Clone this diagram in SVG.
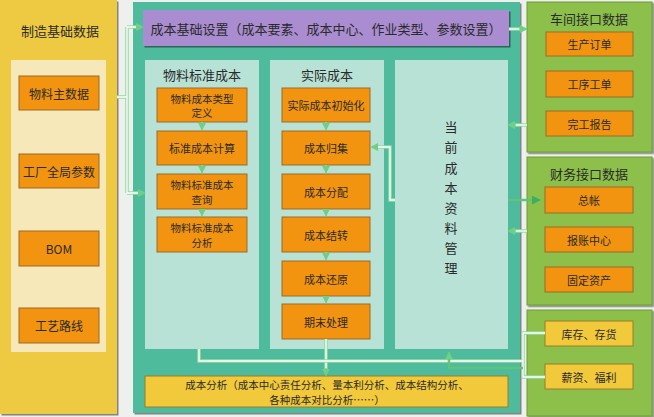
<svg xmlns="http://www.w3.org/2000/svg" width="654" height="417" viewBox="0 0 654 417">
<defs>
<filter id="sh" x="-10%" y="-10%" width="130%" height="130%"><feDropShadow dx="1.5" dy="1.5" stdDeviation="0.7" flood-color="#000" flood-opacity="0.45"/></filter>
<marker id="ag" viewBox="0 0 10 10" refX="9" refY="5" markerWidth="8" markerHeight="8" markerUnits="userSpaceOnUse" orient="auto"><path d="M0,0 L10,5 L0,10 z" fill="#6fcf86"/></marker>
<marker id="ad" viewBox="0 0 10 10" refX="9" refY="5" markerWidth="9" markerHeight="9" markerUnits="userSpaceOnUse" orient="auto"><path d="M0,0 L10,5 L0,10 z" fill="#3fae62"/></marker>
</defs>
<style>
.t{font-family:"Noto Sans CJK SC","Noto Sans",sans-serif;fill:#2a2a2a;text-anchor:middle;dominant-baseline:central}
.h{font-size:13px}
.s{font-size:11px}
.s2{font-size:10.5px}
.m{font-size:12px}
.ob{fill:#f2940f;stroke:#9c6a28;stroke-width:1}
.yb{fill:#f1c93a;stroke:#9c7d28;stroke-width:1}
.sub{fill:#b9e2d6}
.gp{fill:#8dc04b;stroke:#6e9a38;stroke-width:1}
.lo{fill:none;stroke:#96d9a6;stroke-width:3.5}
.li{fill:none;stroke:#ffffff;stroke-width:1.3}
.dn{fill:none;stroke:#8fd6a0;stroke-width:2}
.gl{fill:none;stroke:#5fc47c;stroke-width:2.5}
</style>
<rect width="654" height="417" fill="#eef0ee"/>

<g id="left-panel">
<rect x="0" y="0" width="117" height="414" fill="#eec943" filter="url(#sh)"/>
<text class="t h" x="60" y="30">制造基础数据</text>
<rect x="11" y="60" width="95" height="292" fill="#f7e8b9"/>
</g>
<g id="n-wuliao"><rect class="ob" x="19" y="76" width="80" height="34"/><text class="t m" x="59" y="93">物料主数据</text></g>
<g id="n-gongchang"><rect class="ob" x="19" y="154" width="80" height="34"/><text class="t m" x="59" y="171">工厂全局参数</text></g>
<g id="n-bom"><rect class="ob" x="19" y="231" width="80" height="35"/><text class="t m" x="59" y="248.5">BOM</text></g>
<g id="n-gongyi"><rect class="ob" x="19" y="308" width="80" height="35"/><text class="t m" x="59" y="325.5">工艺路线</text></g>

<g id="main-panel">
<rect x="133" y="2" width="387" height="411" fill="#4dbb9c" filter="url(#sh)"/>
</g>
<g id="n-jichu">
<rect x="143" y="10" width="366" height="36" fill="#a98dd0" filter="url(#sh)"/>
<text class="t h" x="326" y="28.5">成本基础设置（成本要素、成本中心、作业类型、参数设置）</text>
</g>

<g id="p-biaozhun">
<rect class="sub" x="145" y="60" width="114" height="289"/>
<text class="t h" x="202" y="74">物料标准成本</text>
</g>
<g id="n-b1"><rect class="ob" x="157" y="88" width="90" height="34"/><text class="t s2" x="202" y="98">物料成本类型</text><text class="t s2" x="202" y="112.5">定义</text></g>
<g id="n-b2"><rect class="ob" x="157" y="131" width="90" height="34"/><text class="t s" x="202" y="148">标准成本计算</text></g>
<g id="n-b3"><rect class="ob" x="157" y="174" width="90" height="35"/><text class="t s2" x="202" y="184.5">物料标准成本</text><text class="t s2" x="202" y="199">查询</text></g>
<g id="n-b4"><rect class="ob" x="157" y="217" width="90" height="35"/><text class="t s2" x="202" y="227.5">物料标准成本</text><text class="t s2" x="202" y="242">分析</text></g>

<g id="p-shiji">
<rect class="sub" x="270" y="60" width="114" height="289"/>
<text class="t h" x="327" y="74">实际成本</text>
</g>
<g id="n-s1"><rect class="ob" x="282" y="88" width="88" height="34"/><text class="t s" x="326" y="105">实际成本初始化</text></g>
<g id="n-s2"><rect class="ob" x="282" y="131" width="88" height="34"/><text class="t s" x="326" y="148">成本归集</text></g>
<g id="n-s3"><rect class="ob" x="282" y="174" width="88" height="35"/><text class="t s" x="326" y="191.5">成本分配</text></g>
<g id="n-s4"><rect class="ob" x="282" y="217" width="88" height="35"/><text class="t s" x="326" y="234.5">成本结转</text></g>
<g id="n-s5"><rect class="ob" x="282" y="261" width="88" height="35"/><text class="t s" x="326" y="278.5">成本还原</text></g>
<g id="n-s6"><rect class="ob" x="282" y="304" width="88" height="35"/><text class="t s" x="326" y="321.5">期末处理</text></g>

<g id="p-dangqian">
<rect class="sub" x="395" y="60" width="113" height="289"/>
<text class="t h" x="451" y="126">当</text>
<text class="t h" x="451" y="146.5">前</text>
<text class="t h" x="451" y="167">成</text>
<text class="t h" x="451" y="187">本</text>
<text class="t h" x="451" y="207">资</text>
<text class="t h" x="451" y="227">料</text>
<text class="t h" x="451" y="247">管</text>
<text class="t h" x="451" y="267">理</text>
</g>

<g id="n-fenxi">
<rect class="yb" x="145" y="376" width="363" height="31"/>
<text class="t s2" x="327" y="384.5">成本分析（成本中心责任分析、量本利分析、成本结构分析、</text>
<text class="t s2" x="327" y="399">各种成本对比分析……）</text>
</g>

<g id="p-chejian">
<rect class="gp" x="527" y="2" width="125" height="150" filter="url(#sh)"/>
<text class="t h" x="589" y="18">车间接口数据</text>
</g>
<g id="n-r1"><rect class="ob" x="546" y="32" width="87" height="24"/><text class="t s" x="589.5" y="44">生产订单</text></g>
<g id="n-r2"><rect class="ob" x="546" y="71" width="87" height="26"/><text class="t s" x="589.5" y="84">工序工单</text></g>
<g id="n-r3"><rect class="ob" x="546" y="111" width="87" height="25"/><text class="t s" x="589.5" y="123.5">完工报告</text></g>

<g id="p-caiwu">
<rect class="gp" x="527" y="157" width="125" height="148" filter="url(#sh)"/>
<text class="t h" x="589" y="173">财务接口数据</text>
</g>
<g id="n-f1"><rect class="ob" x="545" y="187" width="88" height="26"/><text class="t s" x="589" y="200">总帐</text></g>
<g id="n-f2"><rect class="ob" x="545" y="227" width="88" height="25"/><text class="t s" x="589" y="239.5">报账中心</text></g>
<g id="n-f3"><rect class="ob" x="545" y="267" width="88" height="25"/><text class="t s" x="589" y="279.5">固定资产</text></g>

<g id="p-other">
<rect class="gp" x="527" y="310" width="125" height="106" filter="url(#sh)"/>
</g>
<g id="n-o1"><rect class="yb" x="545" y="321" width="88" height="25"/><text class="t s" x="589" y="333.5">库存、存货</text></g>
<g id="n-o2"><rect class="yb" x="545" y="364" width="88" height="25"/><text class="t s" x="589" y="376.5">薪资、福利</text></g>

<g id="connectors">
<path class="lo" d="M117,97 H127 M127,27 V193 M127,27 H141 M127,193 H143"/>
<path class="li" d="M117,97 H127 M127,27 V193 M127,27 H137 M127,193 H139"/>
<path d="M127,27 H143" fill="none" stroke="none" marker-end="url(#ag)"/>
<path d="M127,193 H145" fill="none" stroke="none" marker-end="url(#ag)"/>
<path class="lo" d="M509,29 H523"/><path class="li" d="M509,29 H519"/>
<path d="M509,29 H527" fill="none" stroke="none" marker-end="url(#ag)"/>
<path class="lo" d="M527,125 H512"/><path class="li" d="M527,125 H516"/>
<path d="M527,125 H508" fill="none" stroke="none" marker-end="url(#ag)"/>
<path class="gl" d="M508,200 H540" marker-end="url(#ad)"/>
<path class="lo" d="M527,231 H512"/><path class="li" d="M527,231 H516"/>
<path d="M527,231 H508" fill="none" stroke="none" marker-end="url(#ag)"/>
<path class="lo" d="M395,200 H390 V147 H376"/><path class="li" d="M395,200 H390 V147 H378"/>
<path d="M380,147 H371" fill="none" stroke="none" marker-end="url(#ag)"/>
<path class="dn" d="M202,122 V130" marker-end="url(#ag)"/>
<path class="dn" d="M202,165 V173" marker-end="url(#ag)"/>
<path class="dn" d="M202,209 V216" marker-end="url(#ag)"/>
<path class="dn" d="M326,122 V130" marker-end="url(#ag)"/>
<path class="dn" d="M326,165 V173" marker-end="url(#ag)"/>
<path class="dn" d="M326,209 V216" marker-end="url(#ag)"/>
<path class="dn" d="M326,252 V260" marker-end="url(#ag)"/>
<path class="dn" d="M326,296 V303" marker-end="url(#ag)"/>
<path class="lo" d="M326,339 V370"/><path class="li" d="M326,339 V368"/>
<path d="M326,360 V376" fill="none" stroke="none" marker-end="url(#ag)"/>
<path class="lo" d="M199,349 V361 H523 M545,333 H523 V377 H545"/>
<path class="li" d="M199,349 V361 H523 M545,333 H523 V377 H545"/>
<path class="gl" d="M523,368 H449 V352" marker-end="url(#ag)"/>
</g>
</svg>
